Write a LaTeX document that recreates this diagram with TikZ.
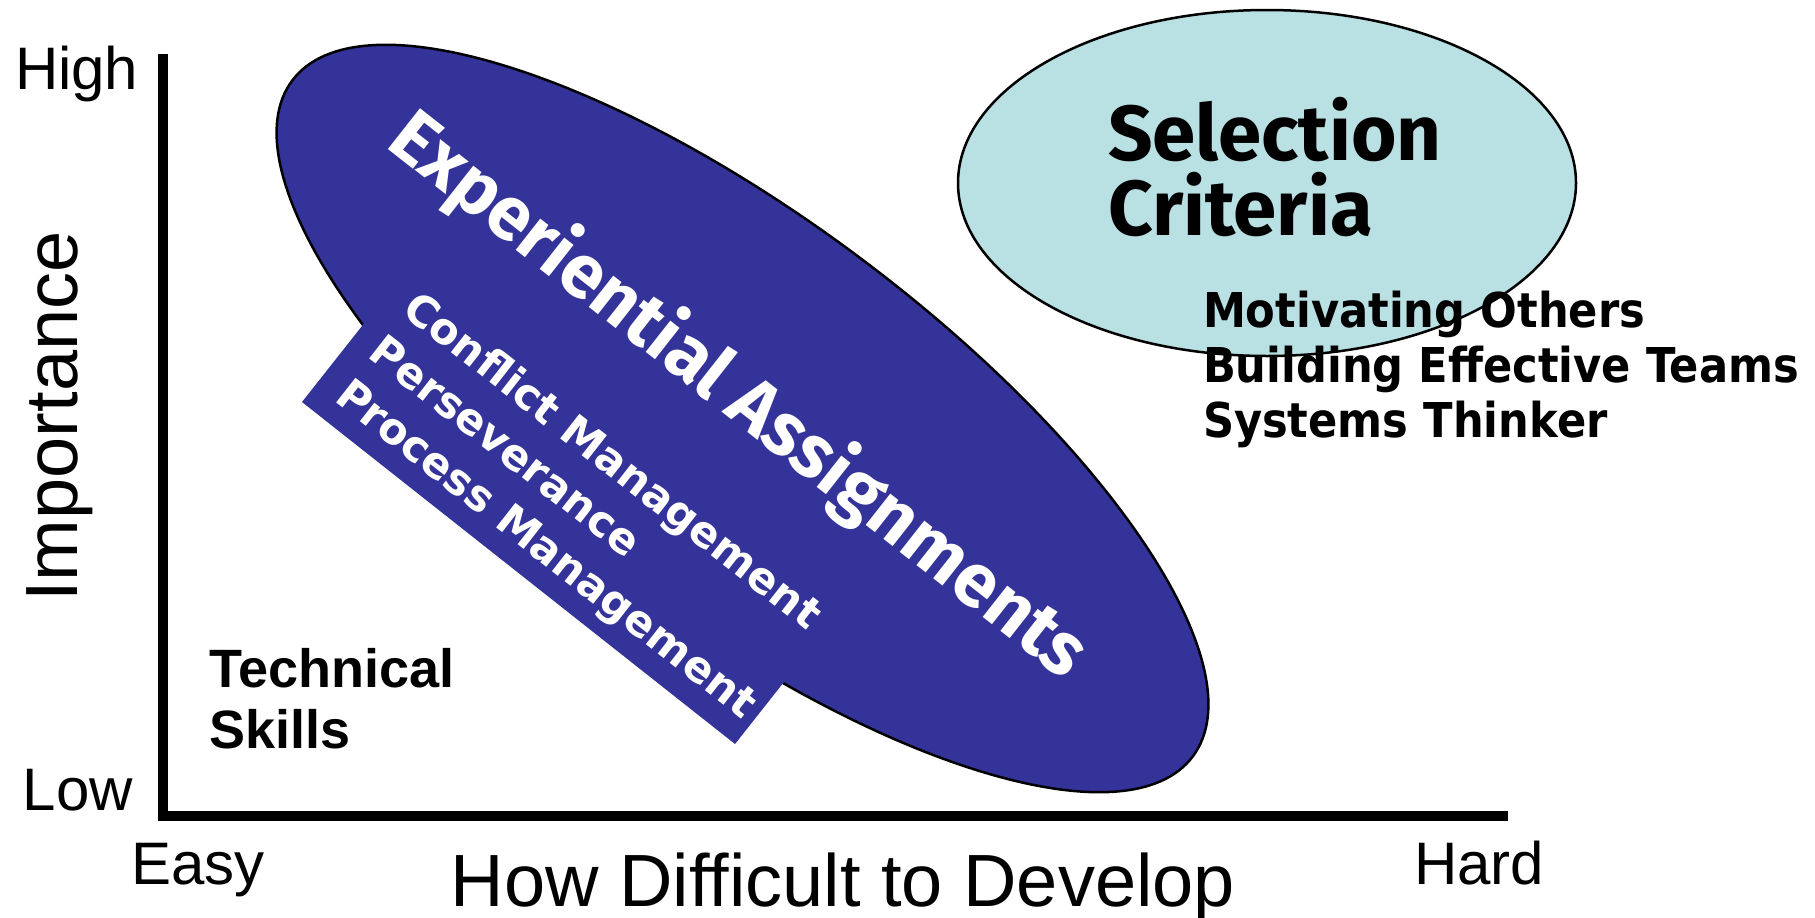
\documentclass[tikz,border=0pt]{standalone}
\usepackage{fontspec}
\setmainfont{Liberation Sans}
\newfontfamily\handfont{Fira Sans}
\newfontfamily\skillfont{DejaVu Sans}
\newfontfamily\narrowfont{DejaVu Sans}[FakeStretch=0.9]

\definecolor{assignblue}{RGB}{51,51,153}
\definecolor{critblue}{RGB}{185,224,227}

\tikzset{
  txt/.style={inner sep=0pt, outer sep=0pt, anchor=base west},
  axislabel/.style={txt, font=\fontsize{60}{72}\selectfont},
  axistitle/.style={txt, font=\fontsize{74}{88}\selectfont},
  bigtitle/.style={txt, font=\handfont\bfseries\fontsize{78}{94}\selectfont},
  arealabel/.style={txt, font=\handfont\bfseries\fontsize{75}{90}\selectfont, text=white},
  innerskill/.style={txt, font=\skillfont\bfseries\fontsize{43}{52}\selectfont, text=white},
  outerskill/.style={txt, font=\narrowfont\bfseries\fontsize{48}{56}\selectfont},
  baseskill/.style={txt, font=\bfseries\fontsize{54}{64}\selectfont},
  outline/.style={draw=black, line width=2.5pt},
  axisline/.style={line width=10.5pt, line join=miter, line cap=butt}
}

\begin{document}
\begin{tikzpicture}[x=1pt, y=-1pt]
\useasboundingbox (0,0) rectangle (1815,918);

% axes
\coordinate (ytop) at (163,54);
\coordinate (origin) at (163,816);
\coordinate (xend) at (1508,816);
\draw[axisline] (ytop) -- (origin) -- (xend);

% axis labels
\node[axislabel] (high) at (15,89) {High};
\node[axislabel] (low) at (23,810) {Low};
\node[axislabel] (easy) at (131,884) {Easy};
\node[axislabel] (hard) at (1414,884) {Hard};
\node[axistitle, anchor=base] (xtitle) at (843,906) {How Difficult to Develop};
\node[axistitle, anchor=base, rotate=90] (ytitle) at (77,416.5) {Importance};

% selection criteria
\draw[outline, fill=critblue] (1267,183) ellipse [x radius=309pt, y radius=173pt];
\node[bigtitle] (sel1) at (1108,160) {Selection};
\node[bigtitle] (sel2) at (1108,235) {Criteria};

\node[outerskill] (mot) at (1203,327) {Motivating Others};
\node[outerskill] (team) at (1203,382) {Building Effective Teams};
\node[outerskill] (sys) at (1203,437) {Systems Thinker};

% experiential assignments
\draw[outline, fill=assignblue, rotate around={-36.9:(742.5,418.5)}]
  (742.5,418.5) ellipse [x radius=563pt, y radius=199pt];
\fill[assignblue] (302,402) -- (735,744) -- (846.5,602.8) -- (413.5,260.8) -- cycle;

\node[arealabel, rotate=-38.2] (exp) at (384,146) {Experiential Assignments};

\begin{scope}[shift={(333,400)}, rotate=-38, transform shape]
  \node[innerskill] (proc) at (0,0) {Process Management};
  \node[innerskill] (pers) at (0,-55) {Perseverance};
  \node[innerskill] (conf) at (0,-110) {Conflict Management};
\end{scope}

% technical skills
\node[baseskill] (tech1) at (209,687) {Technical};
\node[baseskill] (tech2) at (209,748) {Skills};
\end{tikzpicture}
\end{document}
